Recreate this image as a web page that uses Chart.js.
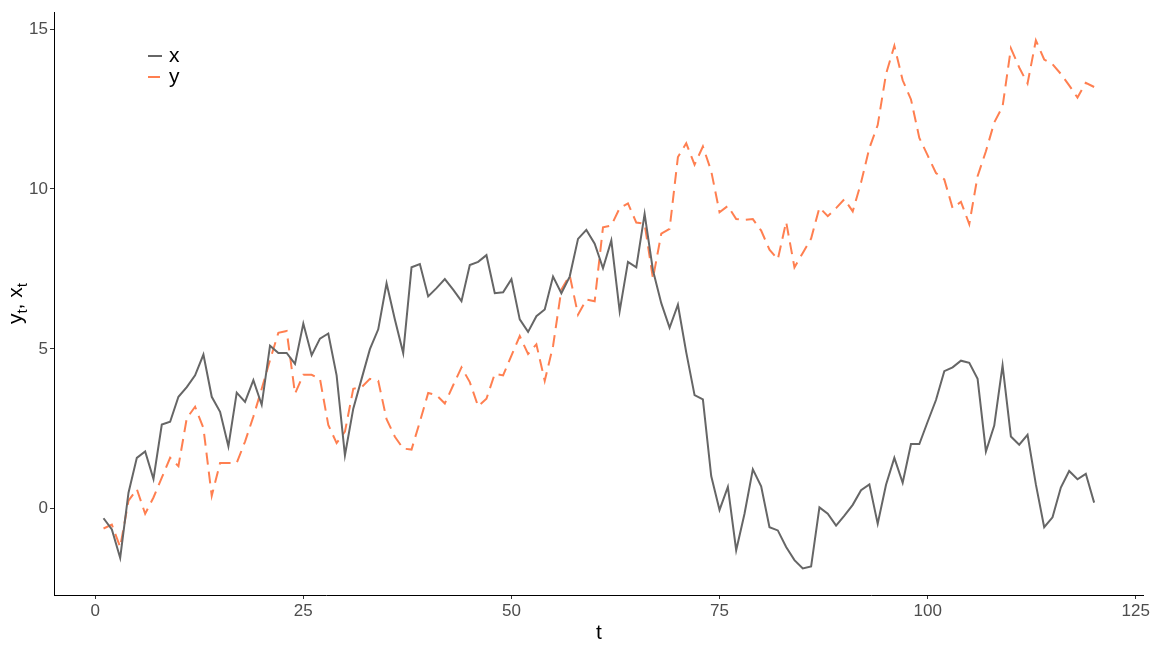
<!DOCTYPE html>
<html>
<head>
<meta charset="utf-8">
<script src="https://cdn.jsdelivr.net/npm/chart.js@4/dist/chart.umd.min.js"></script>
<style>
  html, body { margin: 0; padding: 0; background: #fff; }
  canvas { display: block; }
</style>
</head>
<body>
<canvas id="chart" width="1152" height="648"></canvas>
<script>
// t = 1..120
const tVals = [
  1, 2, 3, 4, 5, 6, 7, 8, 9, 10, 11, 12, 13, 14, 15, 16, 17, 18, 19, 20,
  21, 22, 23, 24, 25, 26, 27, 28, 29, 30, 31, 32, 33, 34, 35, 36, 37, 38, 39, 40,
  41, 42, 43, 44, 45, 46, 47, 48, 49, 50, 51, 52, 53, 54, 55, 56, 57, 58, 59, 60,
  61, 62, 63, 64, 65, 66, 67, 68, 69, 70, 71, 72, 73, 74, 75, 76, 77, 78, 79, 80,
  81, 82, 83, 84, 85, 86, 87, 88, 89, 90, 91, 92, 93, 94, 95, 96, 97, 98, 99, 100,
  101, 102, 103, 104, 105, 106, 107, 108, 109, 110, 111, 112, 113, 114, 115, 116, 117, 118, 119, 120
];

const xVals = [
  -0.30, -0.65, -1.54, 0.50, 1.59, 1.79, 0.93, 2.63, 2.72, 3.50,
  3.80, 4.17, 4.82, 3.50, 3.03, 1.95, 3.63, 3.34, 4.02, 3.25,
  5.10, 4.87, 4.87, 4.53, 5.79, 4.80, 5.32, 5.48, 4.17, 1.67,
  3.13, 4.06, 4.99, 5.61, 7.05, 5.92, 4.87, 7.55, 7.65, 6.64,
  6.90, 7.18, 6.85, 6.49, 7.62, 7.72, 7.93, 6.74, 6.77, 7.18,
  5.92, 5.53, 6.02, 6.23, 7.26, 6.74, 7.26, 8.44, 8.72, 8.29,
  7.52, 8.39, 6.18, 7.72, 7.55, 9.22, 7.46, 6.43, 5.66, 6.38,
  4.89, 3.55, 3.42, 1.02, -0.04, 0.68, -1.30, -0.16, 1.23, 0.70,
  -0.58, -0.68, -1.20, -1.61, -1.87, -1.81, 0.04, -0.16, -0.53, -0.22,
  0.12, 0.58, 0.76, -0.47, 0.75, 1.59, 0.81, 2.02, 2.02, 2.72,
  3.40, 4.30, 4.42, 4.63, 4.56, 4.06, 1.79, 2.60, 4.48, 2.26,
  2.00, 2.31, 0.76, -0.58, -0.27, 0.66, 1.18, 0.92, 1.09, 0.19
];

const yVals = [
  -0.62, -0.50, -1.20, 0.25, 0.61, -0.16, 0.35, 0.97, 1.59, 1.33,
  2.83, 3.19, 2.52, 0.40, 1.43, 1.43, 1.43, 2.10, 2.88, 3.75,
  4.65, 5.50, 5.56, 3.60, 4.19, 4.19, 4.06, 2.62, 2.05, 2.41,
  3.75, 3.80, 4.06, 4.00, 2.80, 2.25, 1.88, 1.85, 2.72, 3.62,
  3.55, 3.29, 3.86, 4.42, 3.96, 3.20, 3.44, 4.22, 4.17, 4.79,
  5.40, 4.84, 5.14, 4.00, 5.09, 6.85, 7.30, 6.07, 6.54, 6.49,
  8.80, 8.86, 9.40, 9.55, 8.95, 8.91, 7.20, 8.60, 8.75, 11.00,
  11.43, 10.76, 11.33, 10.56, 9.27, 9.47, 9.06, 9.03, 9.06, 8.70,
  8.10, 7.80, 8.97, 7.55, 8.00, 8.45, 9.42, 9.15, 9.40, 9.68,
  9.30, 10.20, 11.28, 12.00, 13.60, 14.48, 13.40, 12.80, 11.60, 11.05,
  10.50, 10.30, 9.40, 9.60, 8.90, 10.40, 11.18, 12.08, 12.58, 14.40,
  13.80, 13.30, 14.65, 14.05, 13.90, 13.60, 13.24, 12.86, 13.32, 13.19
];

const xTicks = [0, 25, 50, 75, 100, 125];
const yTicks = [0, 5, 10, 15];
const seriesNames = ['x', 'y'];

const FONT = '"Liberation Sans", Arial, sans-serif';
const GREY = '#666666';
const CORAL = '#FF7F50';
const DASH = [12, 7];

function pts(vals) {
  return vals.map((v, i) => ({ x: tVals[i], y: v }));
}

// legend + axis titles (y title has subscripts)
const extras = {
  id: 'extras',
  afterDraw(chart) {
    const ctx = chart.ctx;
    const area = chart.chartArea;
    ctx.save();

    // legend
    const keys = [
      { label: seriesNames[0], color: GREY, dash: [], y: 56 },
      { label: seriesNames[1], color: CORAL, dash: DASH, y: 77 }
    ];
    keys.forEach(k => {
      ctx.beginPath();
      ctx.setLineDash(k.dash);
      ctx.strokeStyle = k.color;
      ctx.lineWidth = 2;
      ctx.moveTo(148, k.y);
      ctx.lineTo(162, k.y);
      ctx.stroke();
      ctx.setLineDash([]);
      ctx.fillStyle = '#000';
      ctx.font = '21px ' + FONT;
      ctx.textAlign = 'left';
      ctx.textBaseline = 'middle';
      ctx.fillText(k.label, 169, k.y);
    });

    // x title
    ctx.fillStyle = '#000';
    ctx.font = '21px ' + FONT;
    ctx.textAlign = 'center';
    ctx.textBaseline = 'alphabetic';
    ctx.fillText('t', (area.left + area.right) / 2, 639);

    // y title: y_t, x_t
    const parts = [
      { s: 'y', sub: false }, { s: 't', sub: true },
      { s: ', x', sub: false }, { s: 't', sub: true }
    ];
    const big = '21px ' + FONT, small = '15px ' + FONT;
    let total = 0;
    parts.forEach(p => { ctx.font = p.sub ? small : big; p.w = ctx.measureText(p.s).width; total += p.w; });
    ctx.translate(22, (area.top + area.bottom) / 2);
    ctx.rotate(-Math.PI / 2);
    let cx = -total / 2;
    ctx.textAlign = 'left';
    parts.forEach(p => {
      ctx.font = p.sub ? small : big;
      ctx.fillText(p.s, cx, p.sub ? 5 : 0);
      cx += p.w;
    });
    ctx.restore();
  }
};

const axisCommon = {
  type: 'linear',
  grid: { drawOnChartArea: false, drawTicks: true, tickLength: 4, color: '#333333', lineWidth: 1 },
  border: { display: true, color: '#000000', width: 1 },
  ticks: { color: '#4D4D4D', font: { family: FONT, size: 17 } }
};

new Chart(document.getElementById('chart').getContext('2d'), {
  type: 'line',
  data: {
    datasets: [
      {
        label: seriesNames[0],
        data: pts(xVals),
        borderColor: GREY,
        borderWidth: 2,
        pointRadius: 0,
        tension: 0,
        fill: false
      },
      {
        label: seriesNames[1],
        data: pts(yVals),
        borderColor: CORAL,
        borderWidth: 2,
        borderDash: DASH,
        pointRadius: 0,
        tension: 0,
        fill: false
      }
    ]
  },
  options: {
    responsive: false,
    animation: false,
    devicePixelRatio: 1,
    layout: { padding: { top: 6, right: 8, left: 0, bottom: 0 } },
    plugins: { legend: { display: false }, tooltip: { enabled: false } },
    scales: {
      x: Object.assign({}, axisCommon, {
        min: -4.95, max: 125.95,
        ticks: Object.assign({}, axisCommon.ticks, { padding: 2, maxRotation: 0 }),
        afterBuildTicks: s => { s.ticks = xTicks.map(v => ({ value: v })); },
        afterFit: s => { s.height = 53; }
      }),
      y: Object.assign({}, axisCommon, {
        min: -2.70, max: 15.53,
        ticks: Object.assign({}, axisCommon.ticks, { padding: 2 }),
        afterBuildTicks: s => { s.ticks = yTicks.map(v => ({ value: v })); },
        afterFit: s => { s.width = 54; }
      })
    }
  },
  plugins: [extras]
});
</script>
</body>
</html>
